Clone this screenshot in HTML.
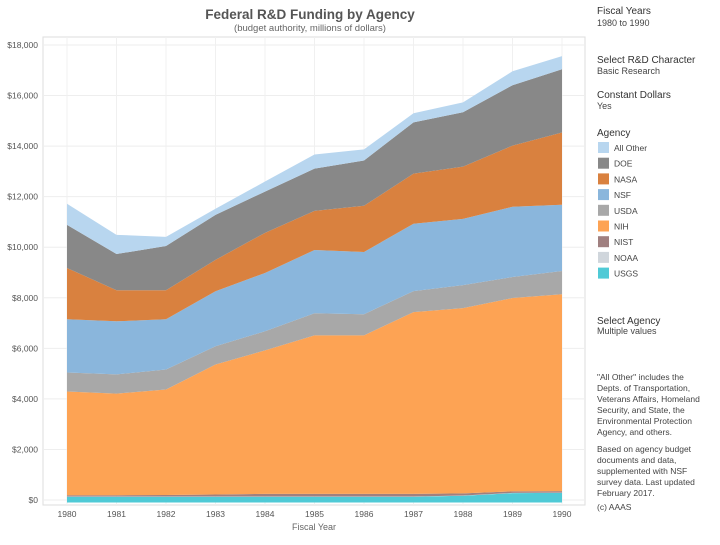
<!DOCTYPE html>
<html><head><meta charset="utf-8"><style>
body{margin:0;background:#fff;font-family:"Liberation Sans",sans-serif;}
svg text{font-family:"Liberation Sans",sans-serif;}
</style></head><body>
<svg id="chart" width="720" height="540" viewBox="0 0 720 540">
<text x="310" y="19" text-anchor="middle" font-size="13.5" font-weight="bold" fill="#555">Federal R&amp;D Funding by Agency</text>
<text x="310" y="31" text-anchor="middle" font-size="9.5" fill="#666">(budget authority, millions of dollars)</text>
<rect x="43" y="37" width="542" height="468" fill="none" stroke="#ddd"/>
<g id="grid"></g>
<g id="areas"></g>
<g id="axes"></g>
<text x="314" y="530" text-anchor="middle" font-size="9" fill="#666">Fiscal Year</text>
<g font-size="10" fill="#333">
<text x="597" y="14" fill="#333">Fiscal Years</text>
<text x="597" y="26" font-size="9" fill="#444">1980 to 1990</text>
<text x="597" y="63">Select R&amp;D Character</text>
<text x="597" y="74" font-size="9" fill="#444">Basic Research</text>
<text x="597" y="98">Constant Dollars</text>
<text x="597" y="109" font-size="9" fill="#444">Yes</text>
<text x="597" y="136">Agency</text>
<g id="legend"></g>
<text x="597" y="324">Select Agency</text>
<text x="597" y="334" font-size="9" fill="#444">Multiple values</text>
<g font-size="8.5" fill="#444">
<text x="597" y="380">"All Other" includes the</text>
<text x="597" y="391">Depts. of Transportation,</text>
<text x="597" y="402">Veterans Affairs, Homeland</text>
<text x="597" y="413">Security, and State, the</text>
<text x="597" y="424">Environmental Protection</text>
<text x="597" y="435">Agency, and others.</text>
<text x="597" y="452">Based on agency budget</text>
<text x="597" y="463">documents and data,</text>
<text x="597" y="474">supplemented with NSF</text>
<text x="597" y="485">survey data. Last updated</text>
<text x="597" y="496">February 2017.</text>
<text x="597" y="510">(c) AAAS</text>
</g>
</g>
</svg>
<script>
const years = [1980,1981,1982,1983,1984,1985,1986,1987,1988,1989,1990];
const usgs  = [130,130,130,130,130,130,130,130,170,270,280];
const noaa  = [10,10,10,10,10,10,10,10,10,10,10];
const nist  = [50,50,60,80,100,100,100,100,80,60,60];
const nih   = [4100,4020,4170,5140,5680,6275,6275,7190,7330,7650,7790];
const usda  = [755,760,795,720,755,875,835,835,910,830,920];
const nsf   = [2105,2100,1985,2180,2305,2500,2460,2665,2620,2780,2620];
const nasa  = [2030,1230,1150,1240,1590,1550,1830,1980,2070,2420,2860];
const doe   = [1705,1430,1750,1780,1630,1670,1790,2030,2150,2390,2500];
const allOther = [835,760,360,240,400,560,440,360,390,550,520];
const yTicks = [0,2000,4000,6000,8000,10000,12000,14000,16000,18000];
const seriesNames = ["USGS","NOAA","NIST","NIH","USDA","NSF","NASA","DOE","All Other"];
const seriesColors = ["#4fcad6","#d0d6dc","#a08080","#fda354","#a8a8a8","#8ab6dc","#d9813f","#888888","#b8d6ef"];
const seriesData = [usgs,noaa,nist,nih,usda,nsf,nasa,doe,allOther];
const NS="http://www.w3.org/2000/svg";
const xS = y => 67 + (y-1980)*(562-67)/10;
const yS = v => 500 - v*(500-45)/18000;
const grid=document.getElementById('grid'), areas=document.getElementById('areas'), axes=document.getElementById('axes');
yTicks.forEach(t=>{
  const l=document.createElementNS(NS,'line');
  l.setAttribute('x1',43);l.setAttribute('x2',585);l.setAttribute('y1',yS(t));l.setAttribute('y2',yS(t));
  l.setAttribute('stroke','#eee');
  
  
  grid.appendChild(l);
  const tx=document.createElementNS(NS,'text');
  tx.setAttribute('x',38);tx.setAttribute('y',yS(t)+3);tx.setAttribute('text-anchor','end');
  tx.setAttribute('font-size','8.5');tx.setAttribute('fill','#555');
  tx.textContent='$'+t.toLocaleString('en-US');
  
  
  axes.appendChild(tx);
});
years.forEach(y=>{
  const l=document.createElementNS(NS,'line');
  l.setAttribute('x1',xS(y));l.setAttribute('x2',xS(y));l.setAttribute('y1',37);l.setAttribute('y2',505);
  l.setAttribute('stroke','#f0f0f0');
  
  
  grid.appendChild(l);
  const tx=document.createElementNS(NS,'text');
  tx.setAttribute('x',xS(y));tx.setAttribute('y',517);tx.setAttribute('text-anchor','middle');
  tx.setAttribute('font-size','8.5');tx.setAttribute('fill','#555');
  tx.textContent=y;
  
  
  axes.appendChild(tx);
});
const base=years.map(()=> -100);
let cum=years.map(()=>0);
seriesData.forEach((s,i)=>{
  const lower=cum.slice();
  cum=cum.map((c,j)=>c+s[j]);
  const lo = i===0 ? base : lower;
  let d='M'+years.map((y,j)=>xS(y)+','+yS(cum[j])).join('L');
  for(let j=years.length-1;j>=0;j--) d+='L'+xS(years[j])+','+yS(lo[j]);
  d+='Z';
  const p=document.createElementNS(NS,'path');
  p.setAttribute('d',d);p.setAttribute('fill',seriesColors[i]);
  
  
  areas.appendChild(p);
});
const legend=document.getElementById('legend');
const order=[8,7,6,5,4,3,2,1,0];
order.forEach((k,i)=>{
  const y=142+i*15.7;
  const r=document.createElementNS(NS,'rect');
  r.setAttribute('x',598);r.setAttribute('y',y);r.setAttribute('width',11);r.setAttribute('height',11);
  r.setAttribute('fill',seriesColors[k]);
  
  
  legend.appendChild(r);
  const t=document.createElementNS(NS,'text');
  t.setAttribute('x',614);t.setAttribute('y',y+9);t.setAttribute('font-size','8.5');t.setAttribute('fill','#444');
  t.textContent=seriesNames[k];
  
  
  legend.appendChild(t);
});
</script>
</body></html>
